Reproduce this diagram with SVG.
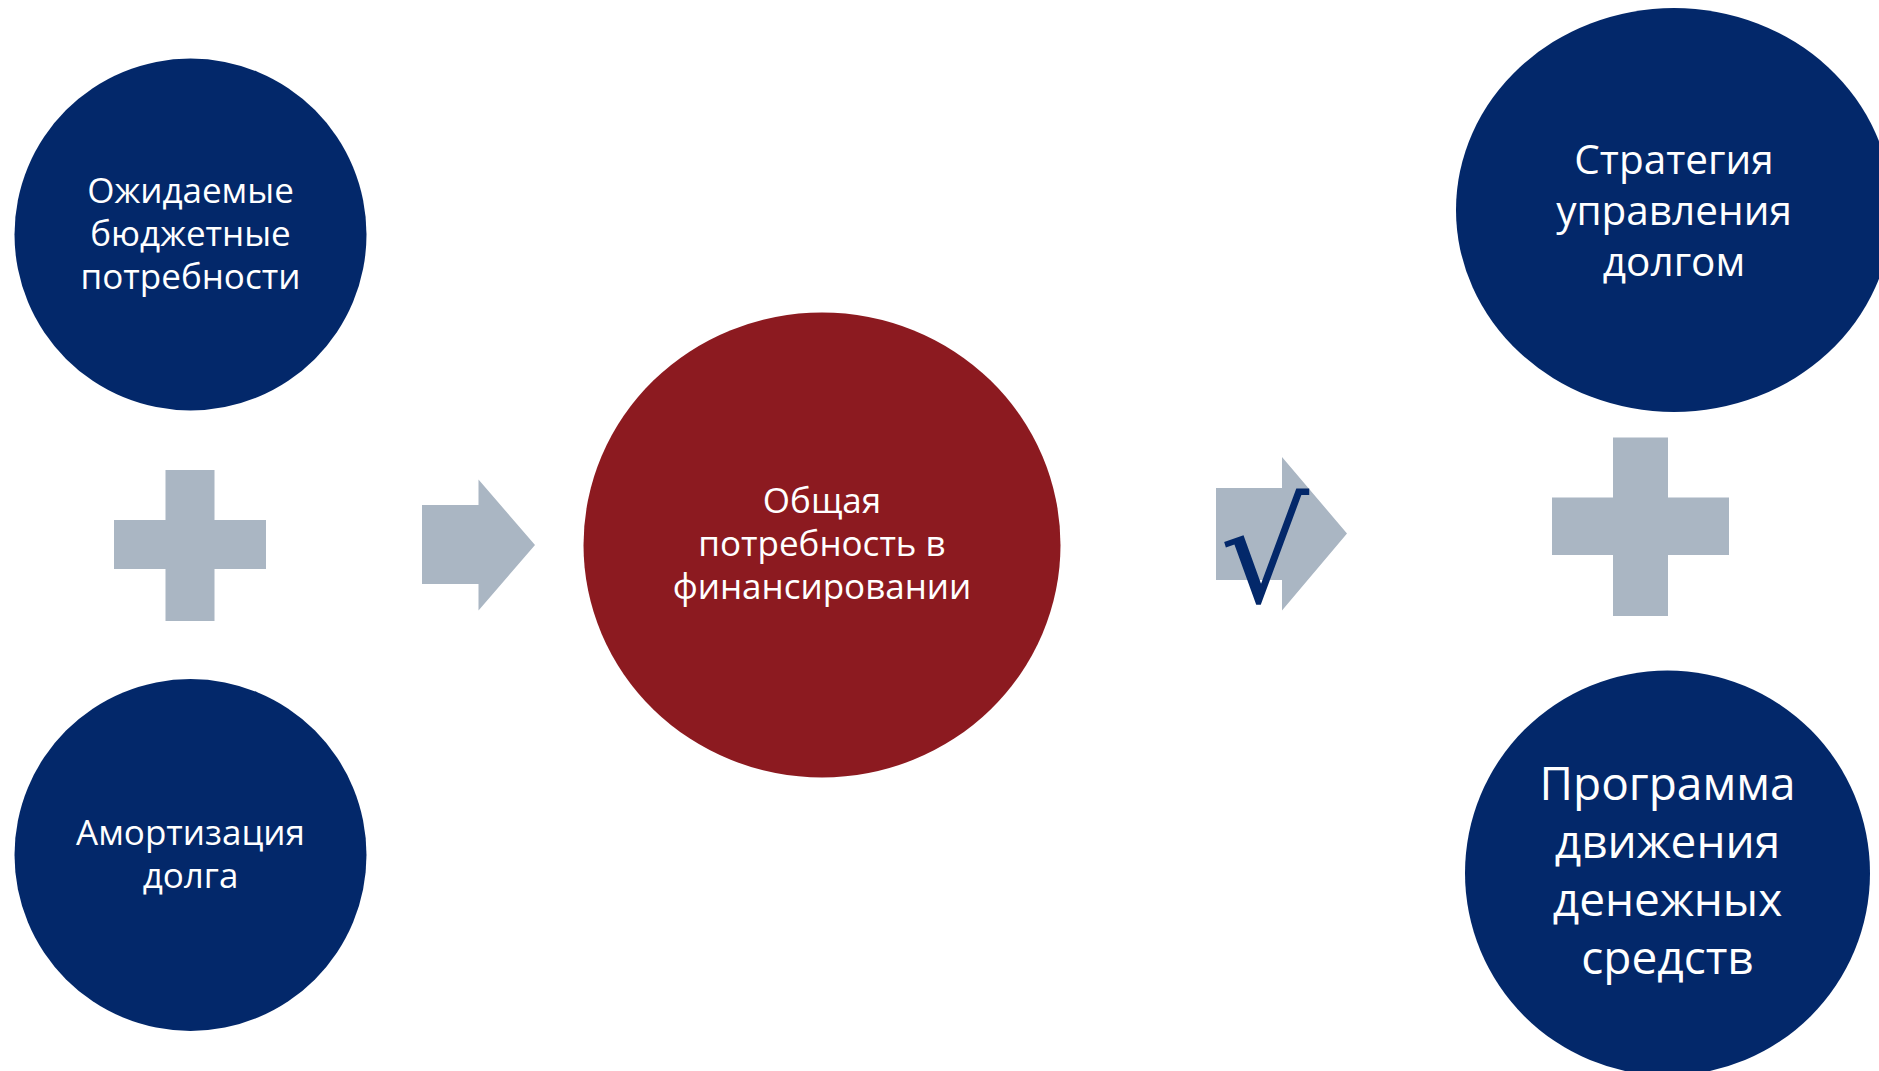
<svg xmlns="http://www.w3.org/2000/svg" width="1879" height="1071" viewBox="0 0 1879 1071">
<style>
.navy{fill:#03286A}
.red{fill:#8C1A20}
.gray{fill:#AAB6C3}
.t{fill:#FFFFFF;font-family:"Open Sans","Noto Sans",sans-serif;text-anchor:middle}
.s1{font-size:35px}
.s2{font-size:40.5px}
.s3{font-size:46px}
</style>
<rect x="0" y="0" width="1879" height="1071" fill="#FFFFFF"/>
<g id="connectors">
<polygon class="gray" points="114,520 165.5,520 165.5,470 214.5,470 214.5,520 266,520 266,569 214.5,569 214.5,621 165.5,621 165.5,569 114,569"/>
<polygon class="gray" points="422,505 478.5,505 478.5,479.5 535,545 478.5,610.5 478.5,584 422,584"/>
<polygon class="gray" points="1216,488 1282,488 1282,457 1347,533.5 1282,610.5 1282,580 1216,580"/>
<polygon class="gray" points="1552,497.5 1613,497.5 1613,437.5 1668,437.5 1668,497.5 1729,497.5 1729,555 1668,555 1668,616 1613,616 1613,555 1552,555"/>
<text x="1220" y="602" font-family="DejaVu Sans, sans-serif" font-size="140" fill="#03286A">√</text>
</g>
<g id="node-budget">
<circle class="navy" cx="190.5" cy="234.5" r="176"/>
<text class="t s1"><tspan x="190.5" y="203">Ожидаемые</tspan><tspan x="190.5" y="246">бюджетные</tspan><tspan x="190.5" y="289">потребности</tspan></text>
</g>
<g id="node-amort">
<circle class="navy" cx="190.5" cy="855" r="176"/>
<text class="t s1"><tspan x="190.5" y="845">Амортизация</tspan><tspan x="190.5" y="888">долга</tspan></text>
</g>
<g id="node-total">
<ellipse class="red" cx="822" cy="545" rx="238.5" ry="232.5"/>
<text class="t s1"><tspan x="822" y="513">Общая</tspan><tspan x="822" y="556">потребность в</tspan><tspan x="822" y="599">финансировании</tspan></text>
</g>
<g id="node-strategy">
<ellipse class="navy" cx="1674" cy="210" rx="218" ry="202"/>
<text class="t s2"><tspan x="1674" y="174">Стратегия</tspan><tspan x="1674" y="225">управления</tspan><tspan x="1674" y="276">долгом</tspan></text>
</g>
<g id="node-program">
<circle class="navy" cx="1667.5" cy="873" r="202.5"/>
<text class="t s3"><tspan x="1667.5" y="800">Программа</tspan><tspan x="1667.5" y="858">движения</tspan><tspan x="1667.5" y="916">денежных</tspan><tspan x="1667.5" y="974">средств</tspan></text>
</g>
</svg>
